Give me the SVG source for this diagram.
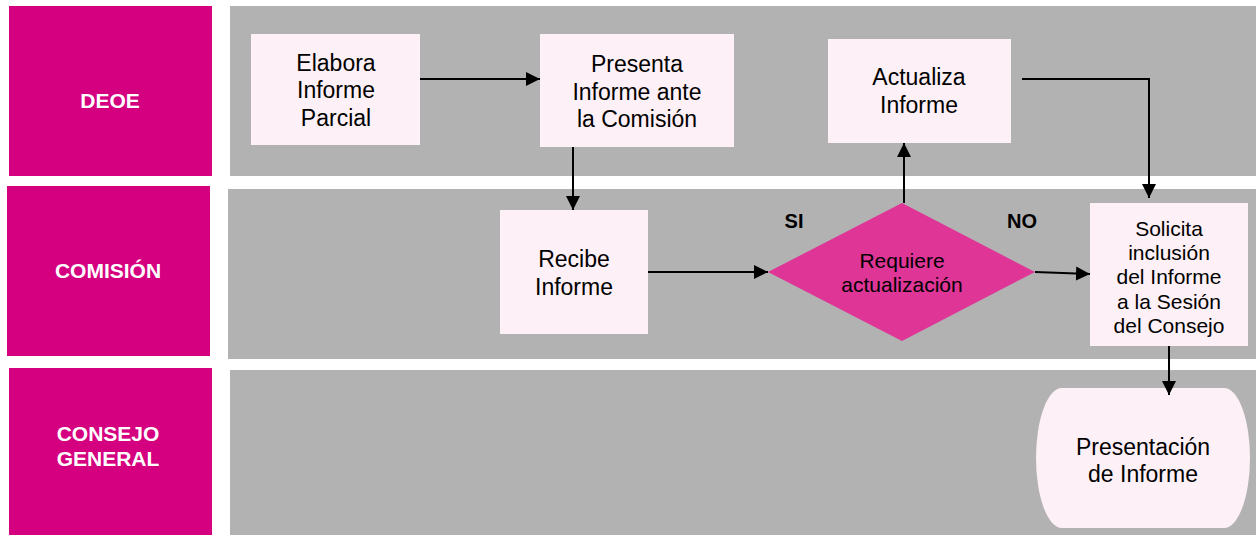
<svg xmlns="http://www.w3.org/2000/svg" width="1256" height="535" viewBox="0 0 1256 535">
<defs>
<style>
.lane{fill:#B2B2B2}
.hdr{fill:#D5007F}
.hdrt{font-family:"Liberation Sans",Arial,sans-serif;font-weight:bold;font-size:21px;fill:#FFFFFF;text-anchor:middle}
.box{fill:#FDF0F6}
.t{font-family:"Liberation Sans",Arial,sans-serif;font-size:23px;fill:#000;text-anchor:middle}
.ts{font-family:"Liberation Sans",Arial,sans-serif;font-size:21px;fill:#000;text-anchor:middle}
.lbl{font-family:"Liberation Sans",Arial,sans-serif;font-weight:bold;font-size:20px;fill:#000;text-anchor:middle}
.c{fill:none;stroke:#000;stroke-width:2;marker-end:url(#ah)}
</style>
<marker id="ah" viewBox="0 0 10 10" refX="10" refY="5" markerWidth="14" markerHeight="14" markerUnits="userSpaceOnUse" orient="auto">
<path d="M0,0 L10,5 L0,10 Z" fill="#000"/>
</marker>
</defs>
<rect width="1256" height="535" fill="#FFFFFF"/>
<g id="lanes">
<rect class="hdr" x="9" y="6" width="203" height="170"/>
<rect class="lane" x="230" y="6" width="1026" height="170"/>
<rect class="hdr" x="7" y="186" width="203" height="170"/>
<rect class="lane" x="228" y="189" width="1028" height="170"/>
<rect class="hdr" x="9" y="368" width="203" height="167"/>
<rect class="lane" x="230" y="370" width="1026" height="165"/>
<text class="hdrt" x="110" y="108">DEOE</text>
<text class="hdrt" x="108" y="278">COMISIÓN</text>
<text class="hdrt" x="108" y="441">CONSEJO</text>
<text class="hdrt" x="108" y="466">GENERAL</text>
</g>
<g id="elabora">
<rect class="box" x="251" y="34" width="169" height="111"/>
<text class="t" x="336" y="71">Elabora</text>
<text class="t" x="336" y="98">Informe</text>
<text class="t" x="336" y="126">Parcial</text>
</g>
<g id="presenta">
<rect class="box" x="540" y="34" width="194" height="113"/>
<text class="t" x="637" y="72">Presenta</text>
<text class="t" x="637" y="100">Informe ante</text>
<text class="t" x="637" y="127">la Comisión</text>
</g>
<g id="actualiza">
<rect class="box" x="828" y="39" width="183" height="104"/>
<text class="t" x="919" y="85">Actualiza</text>
<text class="t" x="919" y="113">Informe</text>
</g>
<g id="recibe">
<rect class="box" x="500" y="210" width="148" height="124"/>
<text class="t" x="574" y="267">Recibe</text>
<text class="t" x="574" y="295">Informe</text>
</g>
<g id="requiere">
<polygon points="768,272 902,203 1035,272 902,341" fill="#DE3597"/>
<text class="ts" x="902" y="268">Requiere</text>
<text class="ts" x="902" y="292">actualización</text>
</g>
<g id="solicita">
<rect class="box" x="1090" y="203" width="158" height="143"/>
<text class="ts" x="1169" y="236">Solicita</text>
<text class="ts" x="1169" y="260">inclusión</text>
<text class="ts" x="1169" y="284">del Informe</text>
<text class="ts" x="1169" y="309">a la Sesión</text>
<text class="ts" x="1169" y="333">del Consejo</text>
</g>
<g id="presentacion">
<path class="box" d="M1062,388 H1224 A26,70 0 0 1 1224,528 H1062 A26,70 0 0 1 1062,388 Z"/>
<text class="t" x="1143" y="455">Presentación</text>
<text class="t" x="1143" y="482">de Informe</text>
</g>
<g id="labels">
<text class="lbl" x="794" y="228">SI</text>
<text class="lbl" x="1022" y="228">NO</text>
</g>
<g id="connectors">
<path class="c" d="M420,79 H540"/>
<path class="c" d="M573,147 V210"/>
<path class="c" d="M648,272 H768"/>
<path class="c" d="M904,203 V143"/>
<path class="c" d="M1022,79 H1149 V198"/>
<path class="c" d="M1035,272 L1090,274"/>
<path class="c" d="M1169,346 V395"/>
</g>
</svg>
